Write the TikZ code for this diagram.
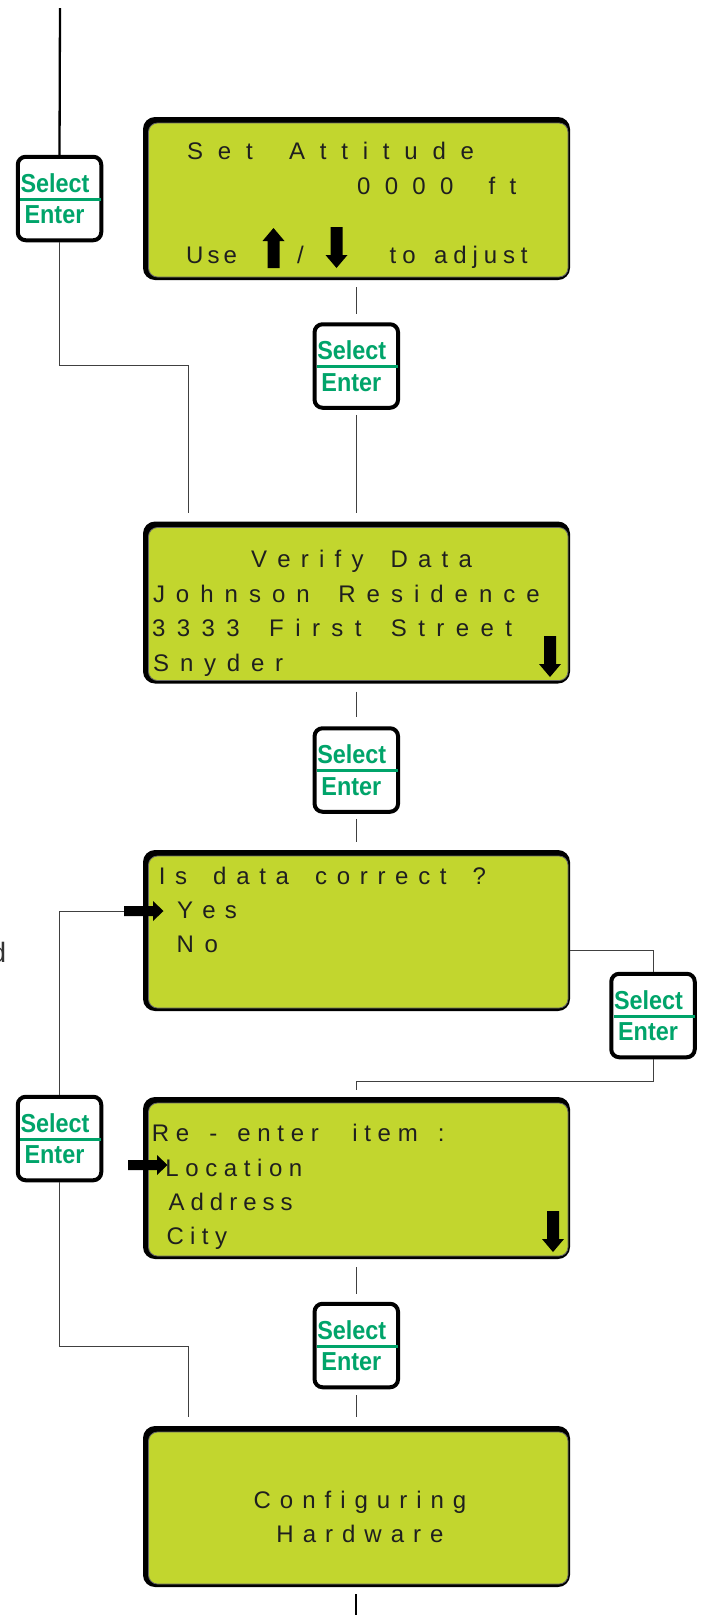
\documentclass[tikz,border=0pt]{standalone}
\usepackage{fontspec}
\newfontfamily\lcdfont{Liberation Sans}
\newfontfamily\btnfont[FakeStretch=0.9]{Liberation Sans}
\definecolor{lcdgreen}{RGB}{194,214,46}
\definecolor{bgreen}{RGB}{0,164,106}
\makeatletter
\newcommand\lsp[2]{\def\lsp@k{#1}\@tfor\lsp@c:=#2\do{\lsp@c\kern\lsp@k pt}\unkern}
\makeatother
\tikzset{
  bezel/.style={fill=black, draw=none, rounded corners=12pt, minimum width=427pt, inner sep=0pt, outer sep=0pt},
  lcdin/.style={fill=lcdgreen, draw=black!60, line width=0.8pt, rounded corners=9pt},
  btnbox/.style={draw=black, fill=white, line width=4pt, rounded corners=8pt, minimum width=83.5pt, minimum height=83.5pt, inner sep=0pt},
  gline/.style={draw=bgreen, line width=3pt},
  btxt/.style={font=\btnfont\bfseries\fontsize{26}{26}\selectfont, text=bgreen, inner sep=0pt, anchor=base},
  lcdtxt/.style={font=\lcdfont\fontsize{24}{24}\selectfont, text=black!88, inner sep=0pt, anchor=base west},
  conn/.style={draw=black!75, line width=1pt},
  thickl/.style={draw=black, line width=2.3pt},
  darrow/.pic={\fill[black] (-6,0) -- (6,0) -- (6,28) -- (11,28) -- (0,41) -- (-11,28) -- (-6,28) -- cycle;},
  uarrow/.pic={\fill[black] (-6,40) -- (6,40) -- (6,13) -- (11,13) -- (0,0) -- (-11,13) -- (-6,13) -- cycle;},
  rarrow/.pic={\fill[black] (0,-5) -- (29,-5) -- (29,-10) -- (39.5,0) -- (29,10) -- (29,5) -- (0,5) -- cycle;}
}
\newcommand\lcdscreen[4]{%
  \node[bezel, minimum height=#4pt] (#1) at (#2,#3) {};
  \draw[lcdin] ([shift={(5.5,6)}]#1.north west) rectangle ([shift={(-2,-3)}]#1.south east);
}
\newcommand\btn[3]{%
  \node[btnbox] (#1) at (#2,#3) {};
  \draw[gline] ([xshift=4.5pt, yshift=-0.8pt]#1.west) -- ([xshift=-2pt, yshift=-0.8pt]#1.east);
  \node[btxt] (#1s) at ([shift={(-4.5,-6.5)}]#1.center) {Select};
  \node[btxt] (#1e) at ([shift={(-5,25)}]#1.center) {Enter};
}
\begin{document}
\begin{tikzpicture}[x=1pt,y=-1pt]
\useasboundingbox (0,0) rectangle (704,1615);

% screens
\lcdscreen{s1}{356.5}{198.5}{163}
\lcdscreen{s2}{356.5}{602.5}{162}
\lcdscreen{s3}{356.5}{930.5}{161}
\lcdscreen{s4}{356.5}{1178}{162}
\lcdscreen{s5}{356.5}{1506.5}{161}

% buttons
\btn{L1}{59.5}{198.5}
\btn{L2}{59.5}{1138.5}
\btn{C1}{356.3}{366}
\btn{C2}{356.3}{770}
\btn{C3}{356.3}{1345.5}
\btn{R}{653}{1015.5}

% coordinates for connectors
\coordinate (top) at (60,8);
\coordinate (j1) at (188,365);
\coordinate (j2) at (653,950.5);
\coordinate (j3) at (653,1081);
\coordinate (j4) at (188,1346);
\coordinate (p1) at (124,911);
\coordinate (bot) at (356.3,1615);

% connectors
\draw[thickl] (top) -- (L1.north);
\draw[conn, shorten >=9pt] (L1.south) |- (j1) -- (j1 |- s2.north);
\draw[conn, shorten <=7pt, shorten >=8pt] (C1.north |- s1.south) -- (C1.north);
\draw[conn, shorten <=5pt, shorten >=9pt] (C1.south) -- (C1.south |- s2.north);
\draw[conn, shorten <=8pt, shorten >=9pt] (C2.north |- s2.south) -- (C2.north);
\draw[conn, shorten <=5pt, shorten >=8pt] (C2.south) -- (C2.south |- s3.north);
\draw[conn] (j2 -| s3.east) -- (j2) -- (R.north);
\draw[conn, shorten >=7pt] (R.south) -- (j3) -| (s4.north);
\draw[conn, shorten <=8pt, shorten >=8pt] (C3.north |- s4.south) -- (C3.north);
\draw[conn, shorten <=6pt, shorten >=9pt] (C3.south) -- (C3.south |- s5.north);
\draw[conn] (p1) -| (L2.north);
\draw[conn, shorten >=9pt] (L2.south) |- (j4) -- (j4 |- s5.north);
\draw[thickl, shorten <=7pt] (bot |- s5.south) -- (bot);

% screen 1 text
\node[lcdtxt] (t11) at (187,159) {\lsp{14.8}{Set~Attitude}};
\node[lcdtxt] (t12) at (357,194) {\lsp{14.3}{0000~ft}};
\node[lcdtxt] (t13) at (186,263) {\lsp{4}{Use}};
\node[lcdtxt, anchor=base] (t14) at (300.5,263) {/};
\node[lcdtxt] (t15) at (389.5,263) {\lsp{5.9}{to~adjust}};
\pic at (273.5,228) {uarrow};
\pic at (336.5,227) {darrow};

% screen 2 text
\node[lcdtxt] (t21) at (251,567) {\lsp{10.2}{Verify~Data}};
\node[lcdtxt] (t22) at (152.8,602) {\lsp{11}{Johnson~Residence}};
\node[lcdtxt] (t23) at (152,636) {\lsp{11.4}{3333~First~Street}};
\node[lcdtxt] (t24) at (153,671) {\lsp{10.8}{Snyder}};
\pic at (550,636) {darrow};

% screen 3 text
\node[lcdtxt] (t31) at (158.6,884) {\lsp{9.7}{Is~data~correct~?}};
\node[lcdtxt] (t32) at (177,918) {\lsp{9.2}{Yes}};
\node[lcdtxt] (t33) at (176.5,952) {\lsp{10.5}{No}};
\pic at (p1) {rarrow};

% screen 4 text
\node[lcdtxt] (t41) at (151.7,1141) {\lsp{6.7}{Re~-~enter~~item~:}};
\node[lcdtxt] (t42) at (165.2,1176) {\lsp{6.6}{Location}};
\node[lcdtxt] (t43) at (168.4,1210) {\lsp{6}{Address}};
\node[lcdtxt] (t44) at (166.3,1244) {\lsp{6.4}{City}};
\pic at (553,1211) {darrow};
\pic at (128,1165) {rarrow};

% screen 5 text
\node[lcdtxt, anchor=base] (t51) at (360,1508) {\lsp{9}{Configuring}};
\node[lcdtxt, anchor=base] (t52) at (360,1542) {\lsp{9}{Hardware}};

% cut-off letter at the left edge
\node[font=\lcdfont\fontsize{28}{28}\selectfont, text=black!80, inner sep=0pt, anchor=base east] (dd) at (6.5,962.5) {d};
\end{tikzpicture}
\end{document}
